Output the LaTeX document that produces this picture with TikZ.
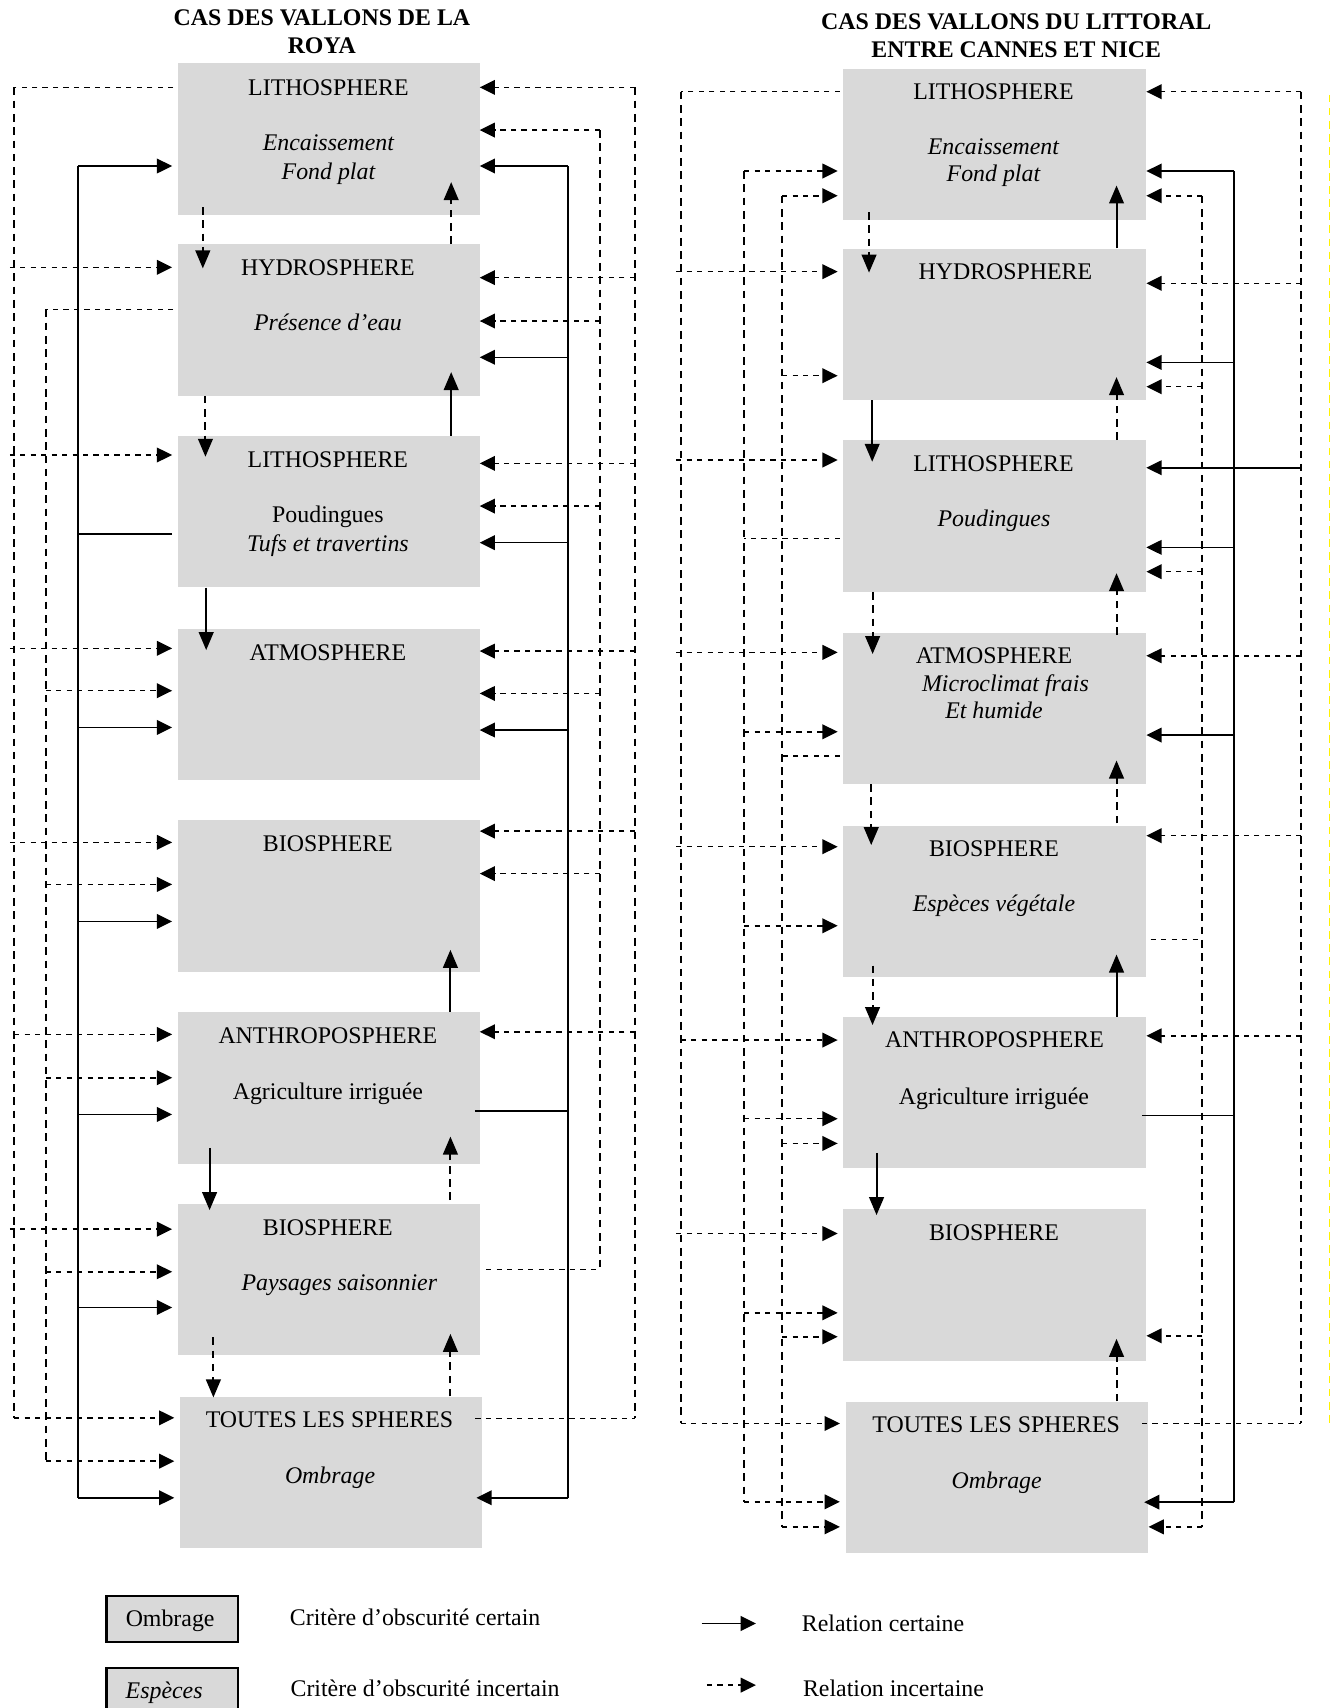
\documentclass[tikz,border=0pt]{standalone}
\usepackage{fontspec}
\setmainfont{Liberation Serif}
\usetikzlibrary{arrows.meta}
\definecolor{boxgray}{RGB}{217,217,217}
% horizontal arrow from a bus into the west / east side of a box
\newcommand\busL[4]{\draw[#1,shorten >=5pt] (#2 |- 0,#3) -- (#4.west |- 0,#3);}
\newcommand\busLo[4]{\draw[#1,shorten >=5pt] ([xshift=-4pt]#2 |- 0,#3) -- (#4.west |- 0,#3);}
\newcommand\busR[4]{\draw[#1] (#2 |- 0,#3) -- (#4.east |- 0,#3);}
% vertical bus segment
\newcommand\Vbus[4]{\draw[#1] (#2 |- 0,#3) -- (#2 |- 0,#4);}
\begin{document}
\begin{tikzpicture}[x=1pt,y=-1pt,
  box/.style={anchor=north west, fill=boxgray, draw=none, minimum width=277pt, minimum height=139pt, inner sep=0pt},
  lbox/.style={anchor=north west, fill=boxgray, draw=black, line width=2pt, minimum width=120.5pt, minimum height=41.7pt, inner sep=0pt},
  txt/.style={anchor=base, inner sep=0pt, font=\fontsize{21.9}{26}\selectfont},
  itxt/.style={anchor=base, inner sep=0pt, font=\fontsize{21.9}{26}\selectfont\itshape},
  ttl/.style={anchor=base, inner sep=0pt, font=\fontsize{21.9}{26}\selectfont\bfseries},
  hs/.style={line width=1.4pt},
  hd/.style={line width=1.4pt, dash pattern=on 4.8pt off 4.8pt},
  vs/.style={line width=1.8pt},
  vd/.style={line width=1.8pt, dash pattern=on 7pt off 5.2pt},
  hsa/.style={hs, -{Triangle[length=14pt,width=13.5pt]}},
  hda/.style={hd, -{Triangle[length=14pt,width=13.5pt]}},
  vsa/.style={vs, -{Triangle[length=16.5pt,width=13.5pt]}},
  vda/.style={vd, -{Triangle[length=16.5pt,width=13.5pt]}}]
\useasboundingbox (0,0) rectangle (1233,1568);

% titles
\node[ttl] (T1a) at (295.6,23) {CAS DES VALLONS DE LA};
\node[ttl] (T1b) at (295.4,49) {ROYA};
\node[ttl] (T2a) at (933,27.5) {CAS DES VALLONS DU LITTORAL};
\node[ttl] (T2b) at (933,52.5) {ENTRE CANNES ET NICE};

% boxes left
\node[box] (L1) at (163,58) {};
\node[box] (L2) at (163,224) {};
\node[box] (L3) at (163,400) {};
\node[box] (L4) at (163,577) {};
\node[box] (L5) at (163,753) {};
\node[box] (L6) at (163,929) {};
\node[box] (L7) at (163,1105) {};
\node[box] (L8) at (165,1282) {};
% boxes right
\node[box,minimum width=278pt] (R1) at (774,63) {};
\node[box,minimum width=278pt] (R2) at (774,228) {};
\node[box,minimum width=278pt] (R3) at (774,404) {};
\node[box,minimum width=278pt] (R4) at (774,580.5) {};
\node[box,minimum width=278pt] (R5) at (774,758) {};
\node[box,minimum width=278pt] (R6) at (774,933.5) {};
\node[box,minimum width=278pt] (R7) at (774,1110) {};
\node[box,minimum width=278pt] (R8) at (776,1286.5) {};

% texts left
\node[txt] (L1a) at (301.5,87.5) {LITHOSPHERE};
\node[itxt] (L1b) at (301.5,138.5) {Encaissement};
\node[itxt] (L1c) at (301.5,164.5) {Fond plat};
\node[txt] (L2a) at (301,252.5) {HYDROSPHERE};
\node[itxt] (L2b) at (301,303.5) {Présence d’eau};
\node[txt] (L3a) at (301,429) {LITHOSPHERE};
\node[txt] (L3b) at (301,480) {Poudingues};
\node[itxt] (L3c) at (301,506) {Tufs et travertins};
\node[txt] (L4a) at (301,606) {ATMOSPHERE};
\node[txt] (L5a) at (301,782) {BIOSPHERE};
\node[txt] (L6a) at (301,958) {ANTHROPOSPHERE};
\node[txt] (L6b) at (301,1009) {Agriculture irriguée};
\node[txt] (L7a) at (301,1134.5) {BIOSPHERE};
\node[itxt] (L7b) at (311.5,1184.5) {Paysages saisonnier};
\node[txt] (L8a) at (302.5,1310.5) {TOUTES LES SPHERES};
\node[itxt] (L8b) at (303,1361.5) {Ombrage};
% texts right
\node[txt] (R1a) at (912,91) {LITHOSPHERE};
\node[itxt] (R1b) at (912,141.5) {Encaissement};
\node[itxt] (R1c) at (912,167) {Fond plat};
\node[txt] (R2a) at (923,256.5) {HYDROSPHERE};
\node[txt] (R3a) at (912,433) {LITHOSPHERE};
\node[itxt] (R3b) at (912.5,483.5) {Poudingues};
\node[txt] (R4a) at (912.5,609) {ATMOSPHERE};
\node[itxt] (R4b) at (923,635) {Microclimat frais};
\node[itxt] (R4c) at (912.5,660) {Et humide};
\node[txt] (R5a) at (912.5,786) {BIOSPHERE};
\node[itxt] (R5b) at (912.5,837) {Espèces végétale};
\node[txt] (R6a) at (913,962) {ANTHROPOSPHERE};
\node[txt] (R6b) at (912.5,1013.5) {Agriculture irriguée};
\node[txt] (R7a) at (912.5,1138.5) {BIOSPHERE};
\node[txt] (R8a) at (914.5,1315.5) {TOUTES LES SPHERES};
\node[itxt] (R8b) at (915,1366.5) {Ombrage};

% bus coordinates
\coordinate (VL1) at (13,0);
\coordinate (VL2) at (42,0);
\coordinate (VL3) at (71.5,0);
\coordinate (VR1) at (521.7,0);
\coordinate (VR2) at (550.6,0);
\coordinate (VR3) at (582.7,0);
\coordinate (RL1) at (624.8,0);
\coordinate (RL2) at (683.2,0);
\coordinate (RL3) at (718,0);
\coordinate (RR1) at (1103.8,0);
\coordinate (RR2) at (1133,0);
\coordinate (RR3) at (1194.6,0);

% ===== LEFT DIAGRAM =====
% VL1 (fed by L1)
\draw[hd] ([xshift=-4pt]L1.west |- 0,80.2) -- (VL1 |- 0,80.2);
\Vbus{vd}{VL1}{80.2}{1301.6}
\busL{hda}{VL1}{1301.6}{L8}
\busLo{hda}{VL1}{245.4}{L2}
\busLo{hda}{VL1}{417.7}{L3}
\busLo{hda}{VL1}{595.2}{L4}
\busLo{hda}{VL1}{773.3}{L5}
\busL{hda}{VL1}{949.6}{L6}
\busLo{hda}{VL1}{1128.4}{L7}
% VL2 (fed by L2)
\draw[hd] ([xshift=-4pt]L2.west |- 0,284) -- (VL2 |- 0,284);
\Vbus{vd}{VL2}{284}{1341.4}
\busL{hda}{VL2}{1341.4}{L8}
\busL{hda}{VL2}{634.1}{L4}
\busL{hda}{VL2}{811.9}{L5}
\busL{hda}{VL2}{989.4}{L6}
\busL{hda}{VL2}{1167.5}{L7}
% VL3 solid (fed by L3)
\draw[hs] ([xshift=-5pt]L3.west |- 0,490.3) -- (VL3 |- 0,490.3);
\Vbus{vs}{VL3}{152.4}{1375}
\busL{hsa}{VL3}{152.4}{L1}
\busL{hsa}{VL3}{667.8}{L4}
\busL{hsa}{VL3}{845.9}{L5}
\busL{hsa}{VL3}{1023.1}{L6}
\busL{hsa}{VL3}{1200.3}{L7}
\busL{hsa}{VL3}{1375}{L8}
% VR3 (fed by L8)
\draw[hd] ([xshift=-6pt]L8.east |- 0,1302.2) -- (VR3 |- 0,1302.2);
\Vbus{vd}{VR3}{80.2}{1302.2}
\busR{hda}{VR3}{80.2}{L1}
\busR{hda}{VR3}{254.9}{L2}
\busR{hda}{VR3}{425.4}{L3}
\busR{hda}{VR3}{597.7}{L4}
\busR{hda}{VR3}{763}{L5}
\busR{hda}{VR3}{947.2}{L6}
% VR2 (fed by L7)
\draw[hd] ([xshift=6pt]L7.east |- 0,1165.4) -- (VR2 |- 0,1165.4);
\Vbus{vd}{VR2}{119.4}{1165.4}
\busR{hda}{VR2}{119.4}{L1}
\busR{hda}{VR2}{294.7}{L2}
\busR{hda}{VR2}{464.6}{L3}
\busR{hda}{VR2}{636.6}{L4}
\busR{hda}{VR2}{802}{L5}
% VR1 solid (fed by L6)
\draw[hs] ([xshift=-4.5pt]L6.east |- 0,1019.7) -- (VR1 |- 0,1019.7);
\Vbus{vs}{VR1}{152.4}{1375}
\busR{hsa}{VR1}{152.4}{L1}
\busR{hsa}{VR1}{328}{L2}
\busR{hsa}{VR1}{498.2}{L3}
\busR{hsa}{VR1}{670.2}{L4}
\draw[hsa] (VR1 |- 0,1375) -- ([xshift=-5pt]L8.east |- 0,1375);
% verticals left
\draw[vda] ([yshift=7.3pt]L1.south -| 186.2,0) -- ([yshift=-22.4pt]L2.north -| 186.2,0);
\draw[vda] (L2.north -| 414.2,0) -- ([yshift=30.2pt]L1.south -| 414.2,0);
\draw[vda] (L2.south -| 188.6,0) -- ([yshift=-19.3pt]L3.north -| 188.6,0);
\draw[vsa] (L3.north -| 414.2,0) -- ([yshift=21.8pt]L2.south -| 414.2,0);
\draw[vsa] (L3.south -| 189.3,0) -- ([yshift=-19.8pt]L4.north -| 189.3,0);
\draw[vsa] (L6.north -| 413.5,0) -- ([yshift=20.4pt]L5.south -| 413.5,0);
\draw[vsa] ([yshift=14.6pt]L6.south -| 192.4,0) -- ([yshift=-5.9pt]L7.north -| 192.4,0);
\draw[vda] ([yshift=3.3pt]L7.north -| 413.5,0) -- ([yshift=25pt]L6.south -| 413.5,0);
\draw[vda] ([yshift=16.8pt]L7.south -| 195.9,0) -- ([yshift=-0.9pt]L8.north -| 195.9,0);
\draw[vda] (L8.north -| 413.5,0) -- ([yshift=19.9pt]L7.south -| 413.5,0);

% ===== RIGHT DIAGRAM =====
% RL1 (fed by R1)
\draw[hd] ([xshift=-3pt]R1.west |- 0,84.2) -- (RL1 |- 0,84.2);
\Vbus{vd}{RL1}{84.2}{1306.8}
\busL{hda}{RL1}{1306.8}{R8}
\busLo{hda}{RL1}{249.4}{R2}
\busLo{hda}{RL1}{422.3}{R3}
\busLo{hda}{RL1}{598.9}{R4}
\busLo{hda}{RL1}{777.3}{R5}
\busL{hda}{RL1}{954.8}{R6}
\busLo{hda}{RL1}{1132.4}{R7}
% RL2 (fed by R3)
\draw[hd] ([xshift=-3pt]R3.west |- 0,494.2) -- (RL2 |- 0,494.2);
\Vbus{vd}{RL2}{157}{1378.7}
\busL{hda}{RL2}{157}{R1}
\busL{hda}{RL2}{671.8}{R4}
\busL{hda}{RL2}{849.9}{R5}
\busL{hda}{RL2}{1027}{R6}
\busL{hda}{RL2}{1205.2}{R7}
\busL{hda}{RL2}{1378.7}{R8}
% RL3 (fed by R4)
\draw[hd] ([xshift=-3pt]R4.west |- 0,694.1) -- (RL3 |- 0,694.1);
\Vbus{vd}{RL3}{179.7}{1401.7}
\busL{hda}{RL3}{179.7}{R1}
\busL{hda}{RL3}{344.9}{R2}
\busL{hda}{RL3}{1049.7}{R6}
\busL{hda}{RL3}{1227.2}{R7}
\busL{hda}{RL3}{1401.7}{R8}
% RR1 (fed by R5)
\draw[hd] ([xshift=4pt]R5.east |- 0,862.4) -- (RR1 |- 0,862.4);
\Vbus{vd}{RR1}{179.7}{1401.7}
\busR{hda}{RR1}{179.7}{R1}
\busR{hda}{RR1}{355}{R2}
\busR{hda}{RR1}{524.8}{R3}
\busR{hda}{RR1}{1226.3}{R7}
\busR{hda}{RR1}{1401.7}{R8}
% RR2 solid (fed by R6)
\draw[hs] ([xshift=-4pt]R6.east |- 0,1024) -- (RR2 |- 0,1024);
\Vbus{vs}{RR2}{157}{1379}
\busR{hsa}{RR2}{157}{R1}
\busR{hsa}{RR2}{332.7}{R2}
\busR{hsa}{RR2}{502.5}{R3}
\busR{hsa}{RR2}{674.8}{R4}
\draw[hsa] (RR2 |- 0,1379) -- ([xshift=-4pt]R8.east |- 0,1379);
% RR3 (fed by R8)
\draw[hd] ([xshift=-6pt]R8.east |- 0,1306.8) -- (RR3 |- 0,1306.8);
\Vbus{vd}{RR3}{84.2}{1306.8}
\busR{hda}{RR3}{84.2}{R1}
\busR{hda}{RR3}{260.1}{R2}
\busR{hsa}{RR3}{429.4}{R3}
\busR{hda}{RR3}{602}{R4}
\busR{hda}{RR3}{767.2}{R5}
\busR{hda}{RR3}{950.9}{R6}
% verticals right
\draw[vda] ([yshift=7.7pt]R1.south -| 797.8,0) -- ([yshift=-22.3pt]R2.north -| 797.8,0);
\draw[vsa] (R2.north -| 1025,0) -- ([yshift=32.1pt]R1.south -| 1025,0);
\draw[vsa] (R2.south -| 800.7,0) -- ([yshift=-19.9pt]R3.north -| 800.7,0);
\draw[vda] (R3.north -| 1025,0) -- ([yshift=21.2pt]R2.south -| 1025,0);
\draw[vda] (R3.south -| 801.1,0) -- ([yshift=-19.9pt]R4.north -| 801.1,0);
\draw[vda] ([yshift=-2.5pt]R4.north -| 1025,0) -- ([yshift=17.2pt]R3.south -| 1025,0);
\draw[vda] (R4.south -| 799.8,0) -- ([yshift=-17.8pt]R5.north -| 799.8,0);
\draw[vda] ([yshift=2.1pt]R5.north -| 1025,0) -- ([yshift=21.7pt]R4.south -| 1025,0);
\draw[vda] ([yshift=11pt]R5.south -| 801,0) -- ([yshift=-7.5pt]R6.north -| 801,0);
\draw[vsa] (R6.north -| 1025,0) -- ([yshift=21.1pt]R5.south -| 1025,0);
\draw[vsa] ([yshift=14.5pt]R6.south -| 804.7,0) -- ([yshift=-5.5pt]R7.north -| 804.7,0);
\draw[vda] (R8.north -| 1025,0) -- ([yshift=20.3pt]R7.south -| 1025,0);

% yellow dashed line
\coordinate (Y1) at (1220.5,87);
\coordinate (Y2) at (1220.5,1306);
\draw[yellow, line width=1.2pt, dash pattern=on 7pt off 5pt] (Y1) -- (Y2);

% legend
\node[lbox] (G1) at (96.8,1464.5) {};
\node[txt] (G1a) at (156.2,1493.5) {Ombrage};
\node[lbox, minimum height=60pt] (G2) at (96.8,1530.3) {};
\node[itxt] (G2a) at (150.7,1559.3) {Espèces};
\node[txt, anchor=base west] (G1t) at (266,1492) {Critère d’obscurité certain};
\node[txt, anchor=base west] (G2t) at (266.6,1557.2) {Critère d’obscurité incertain};
\coordinate (A1s) at (644,1490.4);
\coordinate (A1e) at (694,1490.4);
\draw[hsa] (A1s) -- (A1e);
\coordinate (A2s) at (649,1547);
\coordinate (A2e) at (694,1547);
\draw[hda] (A2s) -- (A2e);
\node[txt, anchor=base west] (G3t) at (736,1498) {Relation certaine};
\node[txt, anchor=base west] (G4t) at (737,1557.7) {Relation incertaine};
\end{tikzpicture}
\end{document}
